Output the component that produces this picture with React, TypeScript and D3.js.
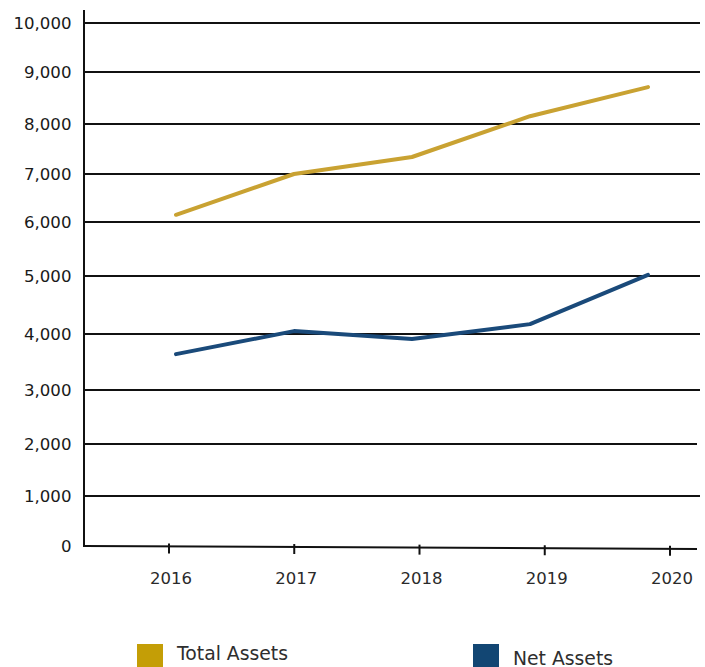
import React from "react";
import * as d3 from "d3";

const years = ["2016", "2017", "2018", "2019", "2020"];
const totalAssets = [6150, 7000, 7340, 8150, 8710];
const netAssets = [3640, 4050, 3910, 4170, 5020];
const yTicks = [0, 1000, 2000, 3000, 4000, 5000, 6000, 7000, 8000, 9000, 10000];
const seriesNames = ["Total Assets", "Net Assets"];

const W = 705;
const H = 667;
const GOLD_LINE = "#c9a232";
const BLUE_LINE = "#1a4a7a";
const GOLD_KEY = "#c49e06";
const BLUE_KEY = "#124673";
const FONT = "Verdana, 'DejaVu Sans', sans-serif";

export default function App() {
  // gridline pixel positions of the (uneven) original value axis
  const y = d3
    .scaleLinear()
    .domain(yTicks)
    .range([546, 496, 444, 390, 334, 276, 222, 174, 124, 72, 23]);
  const xAxis = d3.scalePoint().domain(years).range([169, 670]);
  const xData = d3.scalePoint().domain(years).range([176, 648]);

  const line = d3
    .line<number>()
    .x((_, i) => xData(years[i]) as number)
    .y((d) => y(d));

  const left = 84;
  const right = 700;
  const y0 = y(0);

  return (
    <svg
      width={W}
      height={H}
      style={{ position: "absolute", left: 0, top: 0, background: "#fff" }}
      fontFamily={FONT}
    >
      {/* gridlines */}
      {yTicks
        .filter((t) => t > 0)
        .map((t) => (
          <line
            key={t}
            x1={left}
            x2={t === 2000 ? right - 3 : right}
            y1={y(t)}
            y2={y(t)}
            stroke="#111"
            strokeWidth={2}
          />
        ))}
      {/* y axis */}
      <line x1={left} x2={left} y1={10} y2={y0 + 1} stroke="#111" strokeWidth={2} />
      {/* x axis (slightly tilted as in the original) */}
      <line x1={left} x2={right - 3} y1={y0} y2={y0 + 3} stroke="#111" strokeWidth={2} />
      {years.map((yr) => {
        const xp = xAxis(yr) as number;
        const ya = y0 + ((xp - left) / (right - 3 - left)) * 3;
        return (
          <g key={yr}>
            <line x1={xp} x2={xp} y1={ya - 3} y2={ya + 7} stroke="#111" strokeWidth={2} />
            <text x={xp + 2} y={583.5} textAnchor="middle" fontSize={16.5} fill="#2a2a2a">
              {yr}
            </text>
          </g>
        );
      })}
      {/* y tick labels */}
      {yTicks.map((t) => (
        <text
          key={t}
          x={71.5}
          y={y(t)}
          dy="0.36em"
          textAnchor="end"
          fontSize={16.6}
          fill="#1a1a1a"
        >
          {d3.format(",")(t)}
        </text>
      ))}
      {/* series */}
      <path
        d={line(totalAssets) || ""}
        fill="none"
        stroke={GOLD_LINE}
        strokeWidth={4}
        strokeLinecap="round"
        strokeLinejoin="round"
      />
      <path
        d={line(netAssets) || ""}
        fill="none"
        stroke={BLUE_LINE}
        strokeWidth={4}
        strokeLinecap="round"
        strokeLinejoin="round"
      />
      {/* legend */}
      <rect x={137} y={644} width={26} height={23} fill={GOLD_KEY} />
      <text x={177} y={659.5} fontSize={18.8} fill="#2e2e2e">
        {seriesNames[0]}
      </text>
      <rect x={473} y={644} width={26} height={23} fill={BLUE_KEY} />
      <text x={513} y={664.5} fontSize={18.8} fill="#2e2e2e">
        {seriesNames[1]}
      </text>
    </svg>
  );
}
